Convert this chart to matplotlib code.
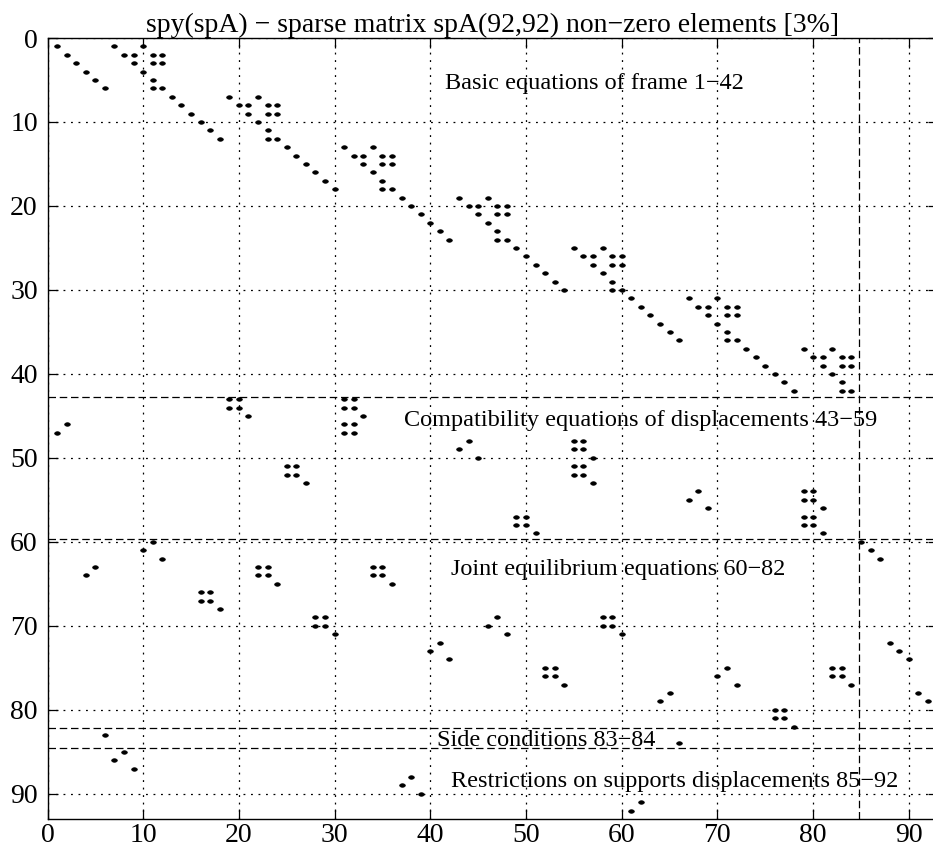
import numpy as np
import matplotlib
matplotlib.use("Agg")
import matplotlib.pyplot as plt
from matplotlib.path import Path

plt.rcParams['font.family'] = ['Liberation Serif', 'DejaVu Serif']

N = 92

# non-zero entries of spA as (row, col), grouped by equation block

# basic equations of the frame, rows 1-42
frame_nz = [
    (1, 1), (2, 2), (3, 3), (4, 4), (5, 5), (6, 6),
    (1, 7), (2, 8), (2, 9), (3, 9), (1, 10), (4, 10), (2, 11), (2, 12),
    (3, 11), (3, 12), (5, 11), (6, 11), (6, 12),
    (7, 13), (8, 14), (9, 15), (10, 16), (11, 17), (12, 18),
    (7, 19), (8, 20), (8, 21), (9, 21), (7, 22), (10, 22), (8, 23), (8, 24),
    (9, 23), (9, 24), (11, 23), (12, 23), (12, 24),
    (13, 25), (14, 26), (15, 27), (16, 28), (17, 29), (18, 30),
    (13, 31), (14, 32), (14, 33), (15, 33), (13, 34), (16, 34), (14, 35), (14, 36),
    (15, 35), (15, 36), (17, 35), (18, 35), (18, 36),
    (19, 37), (20, 38), (21, 39), (22, 40), (23, 41), (24, 42),
    (19, 43), (20, 44), (20, 45), (21, 45), (19, 46), (22, 46), (20, 47), (20, 48),
    (21, 47), (21, 48), (23, 47), (24, 47), (24, 48),
    (25, 49), (26, 50), (27, 51), (28, 52), (29, 53), (30, 54),
    (25, 55), (26, 56), (26, 57), (27, 57), (25, 58), (28, 58), (26, 59), (26, 60),
    (27, 59), (27, 60), (29, 59), (30, 59), (30, 60),
    (31, 61), (32, 62), (33, 63), (34, 64), (35, 65), (36, 66),
    (31, 67), (32, 68), (32, 69), (33, 69), (31, 70), (34, 70), (32, 71), (32, 72),
    (33, 71), (33, 72), (35, 71), (36, 71), (36, 72),
    (37, 73), (38, 74), (39, 75), (40, 76), (41, 77), (42, 78),
    (37, 79), (38, 80), (38, 81), (39, 81), (37, 82), (40, 82), (38, 83), (38, 84),
    (39, 83), (39, 84), (41, 83), (42, 83), (42, 84),
]

# compatibility equations of displacements, rows 43-59
compat_nz = [
    (46, 2), (47, 1),
    (43, 19), (43, 20), (44, 19), (44, 20), (45, 21),
    (51, 25), (51, 26), (52, 25), (52, 26), (53, 27),
    (43, 31), (43, 32), (44, 31), (44, 32), (45, 33),
    (46, 31), (46, 32), (47, 31), (47, 32),
    (48, 44), (49, 43), (50, 45),
    (57, 49), (57, 50), (58, 49), (58, 50), (59, 51),
    (48, 55), (48, 56), (49, 55), (49, 56), (50, 57),
    (51, 55), (51, 56), (52, 55), (52, 56), (53, 57),
    (54, 68), (55, 67), (56, 69),
    (54, 79), (54, 80), (55, 79), (55, 80), (56, 81),
    (57, 79), (57, 80), (58, 79), (58, 80), (59, 81),
]

# joint equilibrium equations, rows 60-82
joint_nz = [
    (60, 11), (61, 10), (62, 12),
    (63, 5), (64, 4),
    (66, 16), (66, 17), (67, 16), (67, 17), (68, 18),
    (63, 22), (63, 23), (64, 22), (64, 23), (65, 24),
    (69, 28), (69, 29), (70, 28), (70, 29), (71, 30),
    (63, 34), (63, 35), (64, 34), (64, 35), (65, 36),
    (72, 41), (73, 40), (74, 42),
    (69, 47), (70, 46), (71, 48),
    (75, 52), (75, 53), (76, 52), (76, 53), (77, 54),
    (69, 58), (69, 59), (70, 58), (70, 59), (71, 60),
    (78, 65), (79, 64),
    (75, 71), (76, 70), (77, 72),
    (80, 76), (80, 77), (81, 76), (81, 77), (82, 78),
    (75, 82), (75, 83), (76, 82), (76, 83), (77, 84),
    (60, 85), (61, 86), (62, 87),
    (72, 88), (73, 89), (74, 90),
    (78, 91), (79, 92),
]

# side conditions, rows 83-84
side_nz = [(83, 6), (84, 66)]

# restrictions on support displacements, rows 85-92
support_nz = [
    (85, 8), (86, 7), (87, 9),
    (88, 38), (89, 37), (90, 39),
    (91, 62), (92, 61),
]

block_labels = [
    "Basic equations of frame 1\u221242",
    "Compatibility equations of displacements 43\u221259",
    "Joint equilibrium equations 60\u221282",
    "Side conditions 83\u221284",
    "Restrictions on supports displacements 85\u221292",
]
ticks = list(range(0, 91, 10))

all_nz = frame_nz + compat_nz + joint_nz + side_nz + support_nz
density = round(100 * len(all_nz) / N**2)

fig = plt.figure(figsize=(9.33, 8.48), dpi=100)
ax = fig.add_axes([47.5 / 933, 29 / 848, 890 / 933, 781 / 848])

# slightly flattened dot, like the stretched spy markers
th = np.linspace(0, 2 * np.pi, 40)
dot = Path(np.column_stack([np.cos(th), 0.62 * np.sin(th)]))

for nz in (frame_nz, compat_nz, joint_nz, side_nz, support_nz):
    r, c = zip(*nz)
    ax.plot(c, r, ls='none', marker=dot, ms=4.0, mfc='k', mec='k', mew=0.6, zorder=3)

ax.set_xlim(0, N + 1)
ax.set_ylim(N + 1, 0)
ax.set_xticks(ticks)
ax.set_yticks(ticks)
ax.grid(True, color='k', lw=0.9, ls=(0, (1.5, 4.5)))
ax.set_axisbelow(True)
ax.tick_params(direction='in', length=7, width=0.9, top=True, right=True,
               labelsize=20)
ax.tick_params(axis='y', pad=7)
ax.tick_params(axis='x', pad=3)
for s in ax.spines.values():
    s.set_linewidth(1.0)

# block separators
for yb in (42.75, 59.7, 82.2, 84.6):
    ax.axhline(yb, color='k', lw=0.9, ls=(0, (6, 3)), zorder=2)
ax.axvline(84.8, color='k', lw=0.9, ls=(0, (6, 3)), zorder=2)

# block captions
ax.text(41.5, 5.4, block_labels[0], fontsize=17.5, va='center')
ax.text(37.3, 45.6, block_labels[1], fontsize=17.5, va='center')
ax.text(42.2, 63.3, block_labels[2], fontsize=17.5, va='center')
ax.text(40.7, 83.7, block_labels[3], fontsize=17.5, va='center')
ax.text(42.2, 88.5, block_labels[4], fontsize=17.5, va='center')

ax.set_title(f"spy(spA) \u2212 sparse matrix spA({N},{N}) non\u2212zero elements [{density}%]",
             fontsize=20, pad=4)

fig.savefig("out.png", dpi=100)
